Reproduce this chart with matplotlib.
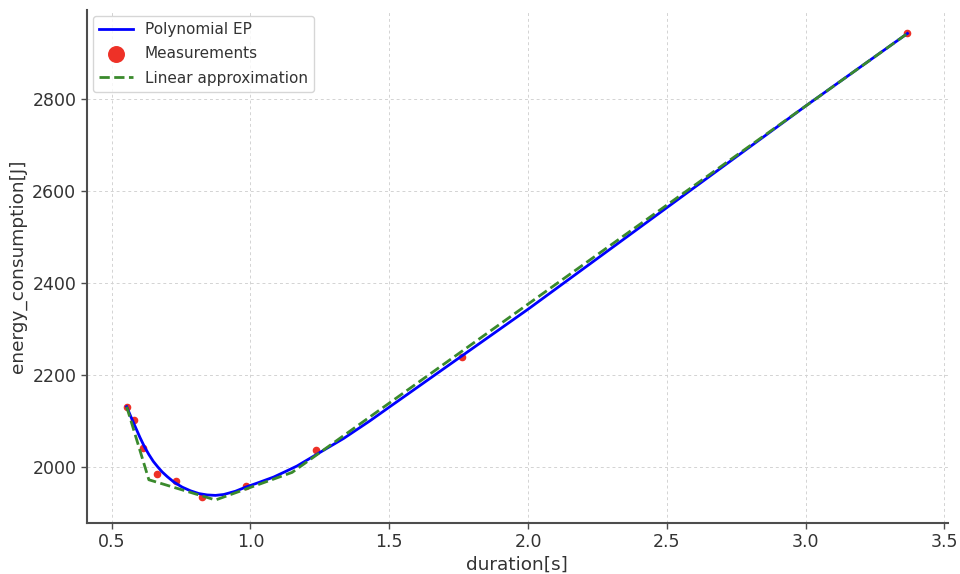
import numpy as np
import matplotlib
matplotlib.use("Agg")
import matplotlib.pyplot as plt

# measured points
meas_x = [0.554, 0.579, 0.612, 0.662, 0.730, 0.827, 0.985, 1.237, 1.763, 3.367]
meas_y = [2130, 2102, 2042, 1984, 1970, 1934, 1959, 2036, 2239, 2943]

# polynomial EP curve
poly_x = [0.554, 0.570, 0.586, 0.602, 0.618, 0.634, 0.650, 0.666, 0.682, 0.700,
          0.724, 0.754, 0.784, 0.814, 0.844, 0.874, 0.904, 0.946, 0.983, 1.030,
          1.084, 1.130, 1.168, 1.235, 1.336, 1.430, 1.500, 1.540, 1.763, 2.000,
          2.500, 3.000, 3.367]
poly_y = [2131, 2108, 2086, 2064, 2044, 2027, 2012, 2000, 1989, 1979,
          1967, 1956, 1948, 1942, 1939, 1938, 1940, 1947, 1956, 1966,
          1978, 1991, 2002, 2026, 2062, 2100, 2130, 2147, 2242, 2343,
          2564, 2785, 2943]

# piecewise linear approximation
lin_x = [0.554, 0.634, 0.874, 1.150, 3.367]
lin_y = [2131, 1972, 1928, 1988, 2943]

plt.rcParams['font.family'] = 'DejaVu Sans'
txt = '#333333'
spine = '#4d4d4d'

fig = plt.figure(figsize=(9.6, 5.74), dpi=100)
ax = fig.add_axes([0.0903, 0.0889, 0.8972, 0.8937])

ax.plot(poly_x, poly_y, color='blue', lw=2, label='Polynomial EP')
ax.scatter(meas_x, meas_y, color='#ee3127', s=20, label='Measurements')
ax.plot(lin_x, lin_y, color='#3a8a2c', lw=2, ls='--', dashes=(3.7, 1.6), label='Linear approximation')

ax.grid(True, ls='--', color='#d3d3d3', lw=0.7, dashes=(3, 3))
ax.set_axisbelow(True)
for s in ['top', 'right']:
    ax.spines[s].set_visible(False)
for s in ['left', 'bottom']:
    ax.spines[s].set_color(spine)
    ax.spines[s].set_linewidth(1.5)
ax.tick_params(colors=spine, labelcolor=txt, labelsize=12.5, length=4, width=1)
ax.set_xlabel('duration[s]', fontsize=13.3, color=txt, labelpad=3)
ax.set_ylabel('energy_consumption[J]', fontsize=13.3, color=txt, labelpad=4)
ax.set_xticks([0.5, 1.0, 1.5, 2.0, 2.5, 3.0, 3.5])
ax.set_yticks([2000, 2200, 2400, 2600, 2800])
ax.set_xlim(0.41, 3.513)
ax.set_ylim(1878, 2994)

leg = ax.legend(loc='upper left', fontsize=11, markerscale=2.5, frameon=True,
                edgecolor='#cccccc', handlelength=2.2, borderaxespad=0.4,
                labelspacing=0.6)
for t in leg.get_texts():
    t.set_color(txt)

fig.savefig('out.png', dpi=100)
